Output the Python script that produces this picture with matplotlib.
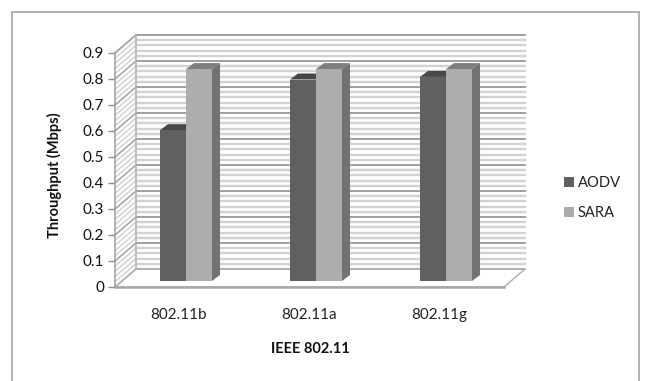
import matplotlib
matplotlib.use("Agg")
import matplotlib.pyplot as plt
import numpy as np
from matplotlib.lines import Line2D
from matplotlib.patches import Patch, Polygon
from matplotlib.transforms import ScaledTranslation

categories = ["802.11b", "802.11a", "802.11g"]
aodv = [0.58, 0.775, 0.785]
sara = [0.815, 0.815, 0.815]
y_ticks = [0, 0.1, 0.2, 0.3, 0.4, 0.5, 0.6, 0.7, 0.8, 0.9]
y_tick_labels = ["0", "0.1", "0.2", "0.3", "0.4", "0.5", "0.6", "0.7", "0.8", "0.9"]
minor_ticks = [i / 50 for i in range(46)]

W, H = 645, 381
plt.rcParams['font.family'] = ['Lato', 'DejaVu Sans']

fig = plt.figure(figsize=(W / 100, H / 100), dpi=100)
# axes box in pixels: x 115-504, y 53-287
ax = fig.add_axes([115 / W, (H - 287) / H, 389 / W, 234 / H])
ax.set_xlim(-0.546, 2.446)
ax.set_ylim(0, 0.9)
ax.patch.set_visible(False)

# depth of the walls and of the bars, in data units
wall_dx, wall_dy = 21 / 130, 18 / 260
bar_dx, bar_dy = 8 / 130, 6 / 260
base = 6 / 260
width = 0.2
x0, x1 = ax.get_xlim()

# back wall and side wall grid
for v in minor_ticks:
    major = round(v * 50) % 5 == 0
    color = '#a0a0a0' if major else '#d2d2d2'
    lw = 1.4 if major else 1.7
    ax.plot([x0 + wall_dx, x1 + wall_dx], [v + wall_dy, v + wall_dy], color=color, lw=lw, clip_on=False, zorder=1)
    ax.plot([x0, x0 + wall_dx], [v, v + wall_dy], color=color, lw=1.1, clip_on=False, zorder=1)

ax.plot([x0, x0 + wall_dx], [0.9, 0.9 + wall_dy], color='#a8a8a8', lw=1.2, clip_on=False, zorder=1)
ax.plot([x0 + wall_dx, x0 + wall_dx], [wall_dy, 0.9 + wall_dy], color='#b4b4b4', lw=1.2, clip_on=False, zorder=1)

# floor
ax.plot([x0 + wall_dx, x1 + wall_dx, x1, x0, x0 + wall_dx],
        [wall_dy, wall_dy, 0, 0, wall_dy], color='#b4b4b4', lw=1.1, clip_on=False, zorder=1.5)
ax.plot([x0, x1], [0, 0], color='#a8a8a8', lw=1.8, clip_on=False, zorder=1.6)


def bar3d(x, v, front, top, side):
    left, right = x, x + width
    bottom, up = base, base + v
    ax.add_patch(Polygon([(right, bottom), (right + bar_dx, bottom + bar_dy),
                          (right + bar_dx, up + bar_dy), (right, up)],
                         fc=side, ec='none', clip_on=False, zorder=3))
    ax.add_patch(Polygon([(left, up), (left + bar_dx, up + bar_dy),
                          (right + bar_dx, up + bar_dy), (right, up)],
                         fc=top, ec='none', clip_on=False, zorder=3))
    ax.add_patch(Polygon([(left, bottom), (right, bottom), (right, up), (left, up)],
                         fc=front, ec='none', clip_on=False, zorder=4))


xs = np.arange(len(categories))
for i in xs:
    bar3d(i - width, aodv[i], '#606060', '#474747', '#474747')
    bar3d(i, sara[i], '#adadad', '#7e7e7e', '#727272')

ax.set_yticks(y_ticks)
ax.set_yticklabels(y_tick_labels, fontsize=11, color='#111111')
ax.set_xticks(xs)
ax.set_xticklabels(categories, fontsize=11, color='#222222')
ax.tick_params(axis='x', length=0, pad=15)
ax.tick_params(axis='y', length=5, width=1.0, color='#8c8c8c', pad=3)
# the category labels sit a little left of the bars
shift = ScaledTranslation(-7 / 100, 0, fig.dpi_scale_trans)
for lab in ax.get_xticklabels():
    lab.set_transform(lab.get_transform() + shift)
for name in ['top', 'right', 'bottom']:
    ax.spines[name].set_visible(False)
ax.spines['left'].set_color('#a0a0a0')
ax.spines['left'].set_linewidth(1.1)

fig.text(310 / W, 1 - 349 / H, "IEEE 802.11", fontsize=10.5, fontweight='bold',
         ha='center', va='center', color='#111111')
fig.text(54 / W, 1 - 175 / H, "Throughput (Mbps)", fontsize=10.5, fontweight='bold',
         rotation=90, ha='center', va='center', color='#111111')

handles = [Patch(fc='#606060', ec='none', label="AODV"),
           Patch(fc='#adadad', ec='none', label="SARA")]
fig.legend(handles=handles, loc='center left', bbox_to_anchor=(561 / W, 1 - 198 / H),
           frameon=False, fontsize=10.6, handlelength=0.7, handleheight=0.7,
           handletextpad=0.22, labelspacing=1.1, labelcolor='#222222',
           borderpad=0.2, borderaxespad=0)

# outer chart border, no bottom edge visible
for xx, yy in [([12, 12], [12, H]), ([12, 639], [12, 12]), ([639, 639], [12, H])]:
    fig.add_artist(Line2D([a / W for a in xx], [1 - b / H for b in yy], color='#b0b0b0', lw=1.4))

fig.savefig("out.png", dpi=100)
